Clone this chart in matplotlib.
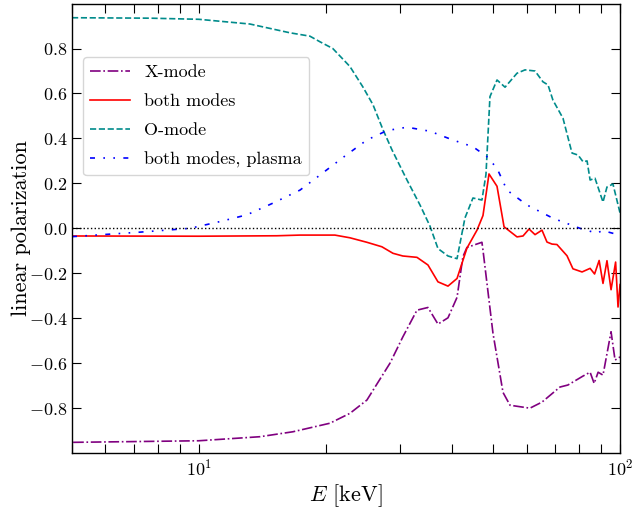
import matplotlib
matplotlib.use("Agg")
import matplotlib.pyplot as plt
from matplotlib.ticker import NullFormatter, MultipleLocator

plt.rcParams.update({
    "font.family": "serif",
    "font.serif": ["cmr10"],
    "mathtext.fontset": "cm",
    "axes.formatter.use_mathtext": True,
    "axes.unicode_minus": True,
})

# ---- data (E in keV, linear polarization) ----
E_x = [5.03, 10.0, 13.96, 16.72, 20.47, 22.84, 25.06, 28.43, 30.5, 32.95,
       34.99, 36.96, 39.04, 41.02, 42.36, 43.3, 47.0, 47.27, 49.92, 52.74,
       54.8, 61.1, 65.26, 72.0, 75.2, 81.7, 84.9, 86.8, 88.7, 91.1, 95.2,
       97.3, 100.0]
P_x = [-0.952, -0.945, -0.927, -0.905, -0.867, -0.823, -0.764, -0.60, -0.483,
       -0.364, -0.352, -0.426, -0.398, -0.307, -0.126, -0.085, -0.062, -0.097,
       -0.466, -0.73, -0.787, -0.80, -0.773, -0.706, -0.697, -0.657, -0.64,
       -0.69, -0.64, -0.653, -0.46, -0.586, -0.572]

E_both = [5.0, 10.0, 15.32, 17.38, 21.04, 22.84, 25.06, 27.2, 28.9, 30.5,
          32.95, 34.99, 36.96, 39.04, 41.02, 43.3, 45.75, 47.27, 48.85, 51.04,
          53.04, 56.93, 58.83, 60.8, 62.83, 65.26, 67.07, 68.93, 70.83, 74.83,
          77.3, 81.24, 84.9, 87.0, 89.2, 91.1, 93.1, 95.2, 97.6, 98.9, 100.0]
P_both = [-0.034, -0.035, -0.033, -0.03, -0.03, -0.042, -0.062, -0.082, -0.111,
          -0.123, -0.129, -0.163, -0.238, -0.257, -0.223, -0.088, -0.008, 0.057,
          0.242, 0.187, 0.007, -0.038, -0.034, -0.003, -0.028, -0.008, -0.061,
          -0.07, -0.072, -0.122, -0.18, -0.194, -0.178, -0.203, -0.143, -0.245,
          -0.144, -0.273, -0.15, -0.35, -0.25]

E_o = [5.0, 7.65, 10.0, 13.22, 16.45, 18.35, 19.39, 20.8, 22.84, 24.5, 25.91,
       27.35, 28.73, 31.2, 33.5, 35.38, 36.96, 39.04, 41.02, 42.83, 44.75,
       47.0, 48.05, 49.11, 51.04, 53.33, 56.93, 59.48, 62.83, 65.6, 67.45,
       69.3, 73.2, 76.9, 79.5, 81.7, 83.5, 84.9, 87.2, 91.1, 93.1, 96.2, 100.0]
P_o = [0.937, 0.935, 0.930, 0.909, 0.87, 0.855, 0.83, 0.80, 0.72, 0.63, 0.55,
       0.44, 0.35, 0.215, 0.104, 0.01, -0.09, -0.123, -0.135, 0.046, 0.135,
       0.126, 0.24, 0.586, 0.66, 0.628, 0.69, 0.705, 0.70, 0.652, 0.638, 0.57,
       0.49, 0.335, 0.326, 0.296, 0.30, 0.215, 0.223, 0.117, 0.184, 0.197,
       0.068]

E_pl = [5.0, 7.24, 9.52, 11.22, 13.0, 14.99, 17.38, 19.39, 21.98, 25.06,
        27.97, 31.2, 35.38, 40.1, 44.75, 48.3, 51.04, 53.9, 60.1, 69.3, 80.35,
        88.2, 90.6, 93.1, 98.4, 100.0]
P_pl = [-0.037, -0.017, 0.0, 0.03, 0.06, 0.112, 0.17, 0.237, 0.315, 0.393,
        0.435, 0.45, 0.432, 0.393, 0.363, 0.319, 0.267, 0.17, 0.104, 0.045,
        0.0, -0.022, -0.01, -0.015, -0.027, -0.03]

fig = plt.figure(figsize=(6.34, 5.08), dpi=100)
ax = fig.add_axes([0.1136, 0.1089, 0.8644, 0.8832])

lw = 1.2
ax.plot(E_x, P_x, color="purple", ls="-.", lw=lw, label="X-mode")
ax.plot(E_both, P_both, color="red", ls="-", lw=lw, label="both modes")
ax.plot(E_o, P_o, color="darkcyan", ls="--", lw=lw, label="O-mode")
ax.plot(E_pl, P_pl, color="blue", ls=(0, (3, 5, 1, 5, 1, 5)), lw=lw,
        label="both modes, plasma")
ax.axhline(0.0, color="black", ls=":", lw=1.0)

ax.set_xscale("log")
ax.set_xlim(5, 100)
ax.set_ylim(-0.998, 0.998)
ax.yaxis.set_major_locator(MultipleLocator(0.2))
ax.xaxis.set_minor_formatter(NullFormatter())

ax.tick_params(which="both", direction="in", top=True, right=True,
               length=6.5, width=0.8, labelsize=13)
for sp in ax.spines.values():
    sp.set_linewidth(1.0)

ax.set_xlabel(r"$E$ [keV]", fontsize=16)
ax.set_ylabel("linear polarization", fontsize=16)
ax.yaxis.set_label_coords(-0.075, 0.5)
ax.xaxis.set_label_coords(0.5, -0.066)

ax.legend(loc="upper left", bbox_to_anchor=(0.0201, 0.8819), borderaxespad=0,
          fontsize=13, handlelength=2.2, labelspacing=0.75)

fig.savefig("out.png", dpi=100)
